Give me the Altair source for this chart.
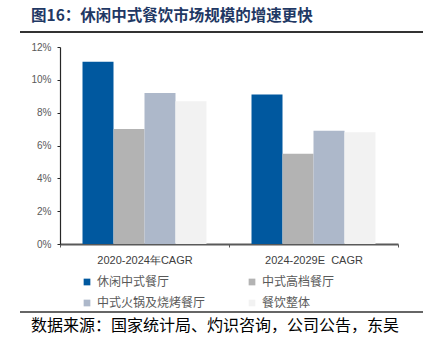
import altair as alt
import pandas as pd

categories = ["2020-2024年CAGR", "2024-2029E\u00a0 CAGR"]
series = ["休闲中式餐厅", "中式高档餐厅", "中式火锅及烧烤餐厅", "餐饮整体"]
values_2020_2024 = [0.111, 0.070, 0.092, 0.087]
values_2024_2029 = [0.091, 0.055, 0.069, 0.068]
colors = ["#00589F", "#B3B3B3", "#ADB8CA", "#F2F2F2"]
y_ticks = [0, 0.02, 0.04, 0.06, 0.08, 0.10, 0.12]
title_text = "图16：休闲中式餐饮市场规模的增速更快"
source_text = "数据来源：国家统计局、灼识咨询，公司公告，东吴"

rows = []
for c, vals in zip(categories, [values_2020_2024, values_2024_2029]):
    for s, v in zip(series, vals):
        rows.append({"cat": c, "series": s, "value": v})
df = pd.DataFrame(rows)

# legend fills column by column: order so rows read 休闲/高档, 火锅/整体
legend_order = [0, 2, 1, 3]
legend_domain = [series[i] for i in legend_order]
legend_range = [colors[i] for i in legend_order]

CJK = "Noto Sans CJK SC"
LAT = "Liberation Sans"

bars = alt.Chart(df).mark_bar().encode(
    x=alt.X("cat:N", sort=categories,
            scale=alt.Scale(paddingInner=0, paddingOuter=0),
            axis=alt.Axis(title=None, labelAngle=0, tickBand="extent",
                          domainColor="#595959", domainWidth=2,
                          tickColor="#595959", tickSize=3, tickWidth=1,
                          labelFont=LAT, labelFontSize=11, labelColor="#404040",
                          labelPadding=7)),
    xOffset=alt.XOffset("series:N", sort=series,
                        scale=alt.Scale(paddingInner=0, paddingOuter=0.726)),
    y=alt.Y("value:Q", scale=alt.Scale(domain=[0, 0.12], nice=False),
            axis=alt.Axis(values=y_ticks, format=".0%", title=None, grid=False,
                          domainColor="#262626", domainWidth=1.2,
                          tickColor="#262626", tickSize=3,
                          labelFont=LAT, labelFontSize=10, labelColor="#595959",
                          labelPadding=6)),
    color=alt.Color("series:N",
                    scale=alt.Scale(domain=legend_domain, range=legend_range),
                    legend=alt.Legend(title=None, orient="none", legendX=21, legendY=229,
                                      columns=2, columnPadding=40, rowPadding=9,
                                      symbolType="square", symbolSize=45,
                                      symbolStrokeWidth=0, labelFont=CJK,
                                      labelFontSize=12, labelColor="#595959",
                                      labelOffset=4, padding=0)),
)

one = alt.Data(values=[{"k": 1}])

title = alt.Chart(one).mark_text(
    text=title_text, align="left", baseline="middle", font=CJK,
    fontWeight="bold", fontSize=15.5, color="#1F3864"
).encode(x=alt.value(-29), y=alt.value(-31))

rule_top = alt.Chart(one).mark_rule(color="#333333", strokeWidth=2).encode(
    x=alt.value(-40), x2=alt.value(363), y=alt.value(-15))

rule_bottom = alt.Chart(one).mark_rule(color="#333333", strokeWidth=1.5).encode(
    x=alt.value(-40), x2=alt.value(363), y=alt.value(265))

source = alt.Chart(one).mark_text(
    text=source_text, align="left", baseline="middle", font=CJK,
    fontSize=16, color="#000000"
).encode(x=alt.value(-29), y=alt.value(279))

chart = alt.layer(bars, title, rule_top, rule_bottom, source).properties(
    width=338, height=197,
    autosize=alt.AutoSizeParams(type="none"),
    padding={"left": 60, "top": 47, "right": 29, "bottom": 95},
    background="white",
).configure_view(stroke=None)

chart.save("out.html", embed_options={"renderer": "svg", "actions": False})
